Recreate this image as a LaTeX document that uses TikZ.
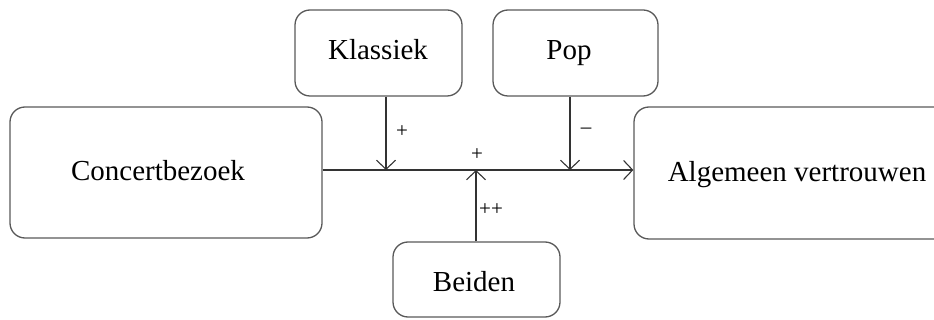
\documentclass[tikz,border=0pt]{standalone}
\usepackage{fontspec}
\setmainfont{Liberation Serif}
\usetikzlibrary{arrows.meta}
\begin{document}
\begin{tikzpicture}[x=1pt,y=-1pt,
  box/.style={draw=black!65,line width=1.3pt,rounded corners=15pt,inner sep=0pt},
  txt/.style={inner sep=0pt,anchor=base,font=\fontsize{29}{32}\selectfont},
  sgn/.style={inner sep=0pt,font=\fontsize{21}{24}\selectfont},
  conn/.style={draw=black!80,line width=1.2pt},
  arr/.style={conn,-{Straight Barb[length=9pt,width=19pt,line width=1.1pt]}}]
\clip (0,0) rectangle (934,320);
\useasboundingbox (0,0) rectangle (934,320);
% boxes
\node[box,minimum width=312pt,minimum height=131pt] (cb) at (166,172.5) {};
\node[box,minimum width=167pt,minimum height=86pt] (kl) at (378.5,53) {};
\node[box,minimum width=165pt,minimum height=86pt] (pop) at (575.5,53) {};
\node[box,minimum width=330pt,minimum height=132pt] (av) at (799,173) {};
\node[box,minimum width=167pt,minimum height=75pt] (bd) at (476.5,279.5) {};
% texts
\node[txt] (tcb) at (158,181) {Concertbezoek};
\node[txt] (tkl) at (378,60) {Klassiek};
\node[txt] (tpop) at (569,60) {Pop};
\node[txt] (tav) at (797,182) {Algemeen vertrouwen};
\node[txt] (tbd) at (474,291) {Beiden};
% junctions
\coordinate (s) at (cb.east |- 0,170);
\coordinate (e) at (av.west |- 0,170);
\coordinate (j1) at (386,170);
\coordinate (j2) at (476,170);
\coordinate (j3) at (570,170);
% connectors
\draw[arr] (s) -- (e);
\draw[arr] (kl.south -| j1) -- (j1);
\draw[arr] (pop.south -| j3) -- (j3);
\draw[arr] (bd.north -| j2) -- (j2);
% signs
\node[sgn] (p1) at (402,132) {+};
\node[sgn] (m1) at (586,131) {\textendash};
\node[sgn] (p2) at (477,155) {+};
\node[sgn] (pp) at (491,210) {++};
\end{tikzpicture}
\end{document}
